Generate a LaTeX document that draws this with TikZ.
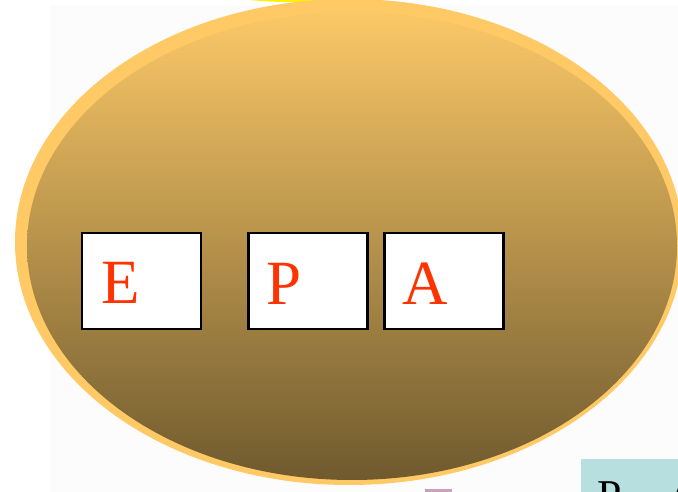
\documentclass[tikz,border=0pt]{standalone}
\usepackage{fontspec}
\setmainfont{Liberation Serif}
\definecolor{rim}{HTML}{FFC966}
\definecolor{topc}{HTML}{FBC867}
\definecolor{midc}{HTML}{D8AC57}
\definecolor{botc}{HTML}{6F5A2E}
\definecolor{lettr}{HTML}{FF3300}
\definecolor{teal}{HTML}{B8DFE0}
\definecolor{faint}{HTML}{FCFCFD}
\definecolor{pinkish}{HTML}{C9A2BA}
\tikzset{
  letterbox/.style={draw=black, line width=2.2pt, fill=white, minimum width=119pt, minimum height=96pt, inner sep=0pt},
  letter/.style={text=lettr, font=\fontsize{63}{63}\selectfont, anchor=base west, inner sep=0pt}
}
\begin{document}
\begin{tikzpicture}[x=1pt,y=-1pt]
\useasboundingbox (0,0) rectangle (678,492);
\clip (0,0) rectangle (678,492);
\fill[white] (0,0) rectangle (678,492);
\fill[faint] (50,5) rectangle (678,492);
% yellow sliver behind
\fill[yellow] (290,-6) ellipse [x radius=60pt, y radius=8pt];
% small pink item at bottom
\fill[pinkish] (425,489) rectangle (452,492);
% outer rim and shaded body
\fill[rim] (349,242) ellipse [x radius=334pt, y radius=243pt];
\shade[top color=topc, middle color=midc, bottom color=botc] (352,246) ellipse [x radius=325pt, y radius=234pt];
% letter boxes
\node[letterbox] (boxE) at (141.5,281) {};
\node[letterbox] (boxP) at (308,281) {};
\node[letterbox] (boxA) at (444,281) {};
\node[letter] (tE) at (101,303) {E};
\node[letter] (tP) at (266,304) {P};
\node[letter] (tA) at (402,304) {A};
% teal box bottom right
\node[fill=teal, anchor=north west, minimum width=120pt, minimum height=60pt, inner sep=0pt] (tealbox) at (581,459) {};
\node[anchor=north west, inner sep=0pt, font=\fontsize{44}{44}\selectfont] (tealP) at (597,481) {P};
\node[anchor=north west, inner sep=0pt, font=\fontsize{44}{44}\selectfont] (tealA) at (667,481) {A};
\end{tikzpicture}
\end{document}
